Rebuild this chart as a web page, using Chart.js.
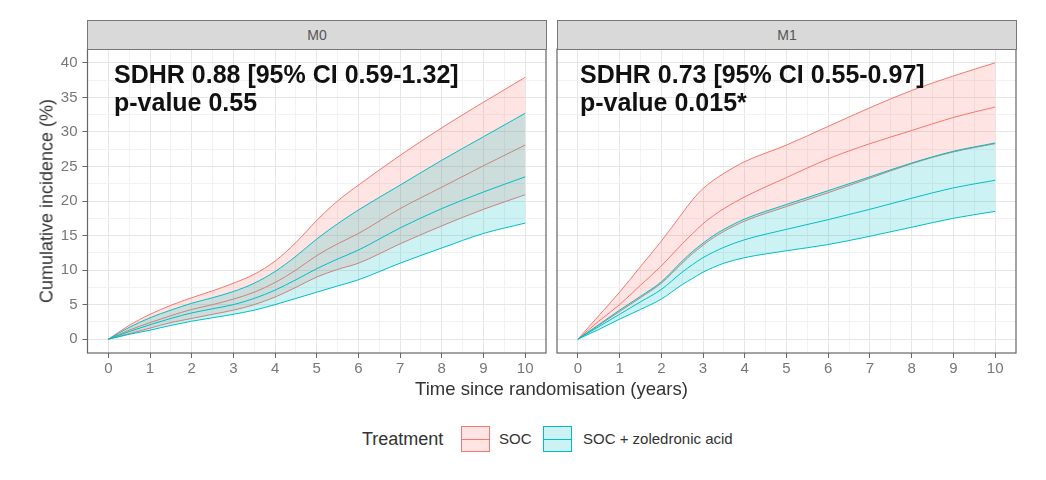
<!DOCTYPE html>
<html>
<head>
<meta charset="utf-8">
<script src="https://cdn.jsdelivr.net/npm/chart.js@4.4.1/dist/chart.umd.min.js"></script>
<style>
  body { margin: 0; background: #fff; font-family: "Liberation Sans", Arial, sans-serif; }
  #wrap { position: relative; width: 1046px; height: 480px; overflow: hidden; }
  canvas { position: absolute; top: 0; }
  .strip { position: absolute; top: 20px; height: 30px; background: #d9d9d9; border: 1px solid #777;
           box-sizing: border-box; text-align: center; line-height: 28px; font-size: 14px; color: #555; }
  .note { position: absolute; top: 61px; font-weight: bold; font-size: 25px; line-height: 27.5px; color: #111; white-space: nowrap; }
  .ytitle { position: absolute; left: 47px; top: 201px; transform: translate(-50%, -50%) rotate(-90deg);
            font-size: 18px; color: #333; white-space: nowrap; }
  .xtitle { position: absolute; left: 0; width: 1103px; top: 380px; text-align: center; font-size: 18.5px; line-height: 18px; color: #333; }
  .leg { position: absolute; white-space: nowrap; color: #333; }
  .key { position: absolute; top: 426px; width: 29px; height: 26px; box-sizing: border-box; }
  .key::after { content: ""; position: absolute; left: 0; right: 0; top: 12px; height: 1px; }
</style>
</head>
<body>
<div id="wrap">
  <canvas id="m0" width="550" height="380" style="left:0"></canvas>
  <canvas id="m1" width="496" height="380" style="left:550px"></canvas>

  <div class="strip" style="left:87px; width:460px">M0</div>
  <div class="strip" style="left:557px; width:460px">M1</div>

  <div class="note" style="left:114px">SDHR 0.88 [95% CI 0.59-1.32]<br>p-value 0.55</div>
  <div class="note" style="left:580px">SDHR 0.73 [95% CI 0.55-0.97]<br>p-value 0.015*</div>

  <div class="ytitle">Cumulative incidence (%)</div>
  <div class="xtitle">Time since randomisation (years)</div>

  <div class="leg" style="left:362px; top:430px; font-size:18px; line-height:18px">Treatment</div>
  <div class="key" id="key0" style="left:461px"></div>
  <div class="leg" style="left:499px; top:431px; font-size:15px; line-height:15px">SOC</div>
  <div class="key" id="key1" style="left:543px"></div>
  <div class="leg" style="left:583px; top:431px; font-size:15px; line-height:15px">SOC + zoledronic acid</div>
</div>

<script>
// treatment groups
const groups = ["SOC", "SOC + zoledronic acid"];
const lineColors = ["#F8766D", "#00BFC4"];
const fillColors = ["rgba(248,118,109,0.2)", "rgba(0,191,196,0.2)"];

// tick labels
const xTicks = [0, 1, 2, 3, 4, 5, 6, 7, 8, 9, 10];
const yTicks = [0, 5, 10, 15, 20, 25, 30, 35, 40];

// M0 panel (years since randomisation)
const m0Years   = [0, 0.5, 1, 1.5, 2, 2.5, 3, 3.5, 4, 4.5, 5, 5.5, 6, 7, 8, 9, 10];
const m0SocHi   = [0, 2.0, 3.6, 4.9, 6.0, 7.0, 8.1, 9.4, 11.3, 14.0, 17.2, 20.0, 22.3, 26.6, 30.6, 34.3, 37.9];
const m0SocEst  = [0, 1.3, 2.4, 3.4, 4.3, 5.0, 5.8, 6.8, 8.2, 10.0, 12.1, 13.8, 15.3, 18.9, 22.0, 25.1, 28.1];
const m0SocLo   = [0, 0.8, 1.6, 2.4, 3.0, 3.6, 4.2, 5.0, 6.1, 7.5, 9.0, 10.1, 11.0, 13.8, 16.4, 18.8, 20.9];
const m0ZolHi   = [0, 1.7, 3.1, 4.2, 5.2, 6.0, 6.9, 8.1, 9.8, 12.0, 14.5, 16.7, 18.7, 22.3, 25.9, 29.3, 32.7];
const m0ZolEst  = [0, 1.1, 2.1, 3.0, 3.8, 4.4, 5.0, 5.9, 7.1, 8.6, 10.2, 11.6, 12.9, 16.1, 18.9, 21.3, 23.5];
const m0ZolLo   = [0, 0.7, 1.3, 2.0, 2.6, 3.1, 3.6, 4.2, 5.0, 5.9, 6.8, 7.7, 8.6, 11.0, 13.2, 15.3, 16.8];

// M1 panel
const m1Years   = [0, 0.5, 1, 1.5, 2, 2.5, 2.75, 3, 3.25, 3.5, 4, 5, 6, 7, 8, 9, 10];
const m1SocHi   = [0, 3.4, 6.8, 10.5, 14.2, 18.2, 20.2, 21.8, 23.0, 24.0, 25.7, 28.1, 30.8, 33.5, 36.0, 38.1, 40.0];
const m1SocEst  = [0, 2.6, 5.0, 7.8, 10.6, 13.8, 15.3, 16.7, 17.9, 18.9, 20.6, 23.4, 26.1, 28.3, 30.2, 32.1, 33.6];
const m1SocLo   = [0, 2.0, 4.0, 6.0, 8.1, 11.0, 12.4, 13.6, 14.7, 15.6, 17.1, 19.2, 21.2, 23.3, 25.4, 27.1, 28.3];
const m1ZolHi   = [0, 2.1, 4.2, 6.2, 8.3, 11.3, 12.7, 13.9, 15.0, 15.9, 17.4, 19.5, 21.5, 23.5, 25.5, 27.2, 28.4];
const m1ZolEst  = [0, 1.8, 3.6, 5.4, 7.2, 9.7, 10.8, 11.8, 12.6, 13.3, 14.4, 15.9, 17.3, 18.8, 20.4, 21.9, 23.0];
const m1ZolLo   = [0, 1.4, 2.9, 4.3, 5.8, 7.9, 8.8, 9.7, 10.4, 11.0, 11.8, 12.8, 13.7, 14.9, 16.2, 17.5, 18.5];

Chart.defaults.font.family = '"Liberation Sans", Arial, sans-serif';

// legend keys
["key0", "key1"].forEach((id, i) => {
  const k = document.getElementById(id);
  k.style.background = fillColors[i];
  k.style.border = "1px solid " + lineColors[i];
});
const st = document.createElement("style");
st.textContent = "#key0::after{background:" + lineColors[0] + "} #key1::after{background:" + lineColors[1] + "}";
document.head.appendChild(st);

// minor gridlines halfway between the major ones
const xGrid = [];
xTicks.forEach((v, i) => { xGrid.push(v); if (i < xTicks.length - 1) xGrid.push(v + 0.5); });
const yGrid = [];
yTicks.forEach((v, i) => { yGrid.push(v); if (i < yTicks.length - 1) yGrid.push(v + 2.5); });

const pts = (xs, ys) => xs.map((x, i) => ({ x: x, y: ys[i] }));

const panelBorder = {
  id: "panelBorder",
  afterDatasetsDraw(chart) {
    const { ctx, chartArea: a } = chart;
    ctx.save();
    ctx.strokeStyle = "#666";
    ctx.lineWidth = 1.2;
    ctx.strokeRect(a.left, a.top, a.right - a.left, a.bottom - a.top);
    ctx.restore();
  }
};

function makePanel(id, years, series, showY, pad) {
  const datasets = [];
  series.forEach((s, g) => {
    datasets.push({ label: groups[g] + " upper", data: pts(years, s[0]), borderColor: lineColors[g],
                    backgroundColor: fillColors[g], fill: "+1", order: 2 - g });
    datasets.push({ label: groups[g] + " lower", data: pts(years, s[2]), borderColor: lineColors[g],
                    fill: false, order: 2 - g });
    datasets.push({ label: groups[g], data: pts(years, s[1]), borderColor: lineColors[g],
                    fill: false, order: 2 - g });
  });

  return new Chart(document.getElementById(id), {
    type: "line",
    data: { datasets: datasets },
    options: {
      responsive: false,
      animation: false,
      events: [],
      layout: { padding: { left: pad[0], right: pad[1], top: 49, bottom: 0 } },
      plugins: { legend: { display: false }, tooltip: { enabled: false } },
      elements: {
        point: { radius: 0 },
        line: { borderWidth: 1, cubicInterpolationMode: "monotone" }
      },
      scales: {
        x: {
          type: "linear", min: -0.5, max: 10.5,
          afterBuildTicks: s => { s.ticks = xGrid.map(v => ({ value: v })); },
          afterFit: s => { s.height = 27; },
          border: { display: false },
          grid: {
            color: c => (c.tick && !Number.isInteger(c.tick.value)) ? "#f2f2f2" : "#e6e6e6",
            tickColor: c => (c.tick && !Number.isInteger(c.tick.value)) ? "rgba(0,0,0,0)" : "#666",
            tickLength: 5
          },
          ticks: {
            autoSkip: false, maxRotation: 0, padding: 2, color: "#777", font: { size: 15 },
            callback: v => Number.isInteger(v) ? String(v) : ""
          }
        },
        y: {
          min: -2, max: 42,
          afterBuildTicks: s => { s.ticks = yGrid.map(v => ({ value: v })); },
          afterFit: s => { s.width = showY ? 87.5 : 0; },
          border: { display: false },
          grid: {
            color: c => (c.tick && c.tick.value % 5 !== 0) ? "#f2f2f2" : "#e6e6e6",
            tickColor: c => (c.tick && c.tick.value % 5 !== 0) ? "rgba(0,0,0,0)" : "#666",
            tickLength: 5,
            drawTicks: showY
          },
          ticks: {
            display: showY, autoSkip: false, padding: 5, color: "#777", font: { size: 15 },
            callback: v => v % 5 === 0 ? String(v) : ""
          }
        }
      }
    },
    plugins: [panelBorder]
  });
}

makePanel("m0", m0Years, [[m0SocHi, m0SocEst, m0SocLo], [m0ZolHi, m0ZolEst, m0ZolLo]], true, [0, 4]);
makePanel("m1", m1Years, [[m1SocHi, m1SocEst, m1SocLo], [m1ZolHi, m1ZolEst, m1ZolLo]], false, [7, 30]);
</script>
</body>
</html>
